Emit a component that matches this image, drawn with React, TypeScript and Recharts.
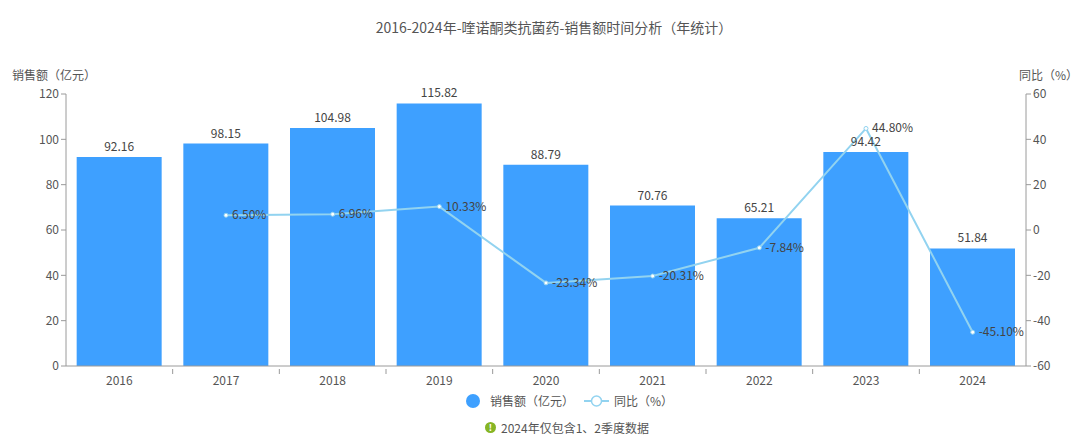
import React from "react";
import {
  ComposedChart, Bar, Line, XAxis, YAxis, LabelList,
} from "recharts";

const years = ["2016", "2017", "2018", "2019", "2020", "2021", "2022", "2023", "2024"];
const sales = [92.16, 98.15, 104.98, 115.82, 88.79, 70.76, 65.21, 94.42, 51.84];
const yoy: (number | null)[] = [null, 6.5, 6.96, 10.33, -23.34, -20.31, -7.84, 44.8, -45.1];
const leftTicks = [0, 20, 40, 60, 80, 100, 120];
const rightTicks = [-60, -40, -20, 0, 20, 40, 60];

const data = years.map((y, i) => ({ year: y, sales: sales[i], yoy: yoy[i] }));

const FONT = "'Noto Sans CJK SC', 'Noto Sans', sans-serif";
const BAR = "#3ea0ff";
const LINE = "#92d3f0";
const AXIS = "#9a9a9a";
const TEXT = "#555";

const W = 1080;
const H = 447;
const LEFT_W = 66;
const RIGHT_W = 54;
const HALF_BAND = (W - LEFT_W - RIGHT_W) / years.length / 2;

// echarts-style x ticks: marks on category boundaries, label in the middle
// eslint-disable-next-line @typescript-eslint/no-explicit-any
const XTick = ({ x, y, payload, index }: any) => (
  <g>
    {index < years.length - 1 && (
      <line x1={x + HALF_BAND} x2={x + HALF_BAND} y1={y - 5} y2={y} stroke={AXIS} />
    )}
    <text x={x} y={y + 11} textAnchor="middle" fontSize={12} fill={TEXT} fontFamily={FONT}>
      {payload.value}
    </text>
  </g>
);

// eslint-disable-next-line @typescript-eslint/no-explicit-any
const YoyLabel = ({ x, y, value }: any) => {
  if (value == null) return null;
  return (
    <text x={x + 6} y={y + 4} fontSize={12} fill="#444" fontFamily={FONT}>
      {value.toFixed(2)}%
    </text>
  );
};

export default function App() {
  return (
    <div style={{ position: "relative", width: W, height: H, fontFamily: FONT, background: "#fff" }}>
      <style>{`body{margin:0}`}</style>
      <div style={{ position: "absolute", top: 17, left: 14, width: W, textAlign: "center", fontSize: 14, color: "#555" }}>
        2016-2024年-喹诺酮类抗菌药-销售额时间分析（年统计）
      </div>
      <div style={{ position: "absolute", top: 66, left: 12, fontSize: 12, color: TEXT }}>销售额（亿元）</div>
      <div style={{ position: "absolute", top: 66, left: 1019, fontSize: 12, color: TEXT }}>同比（%）</div>

      <ComposedChart
        width={W}
        height={H}
        data={data}
        margin={{ top: 94, right: 0, bottom: 56, left: 0 }}
        barCategoryGap="10%"
      >
        <XAxis
          dataKey="year"
          height={25}
          tick={<XTick />}
          tickLine={false}
          axisLine={{ stroke: AXIS }}
          interval={0}
        />
        <YAxis
          yAxisId="l"
          width={LEFT_W}
          domain={[0, 120]}
          ticks={leftTicks}
          tickSize={5}
          tickLine={{ stroke: AXIS }}
          axisLine={{ stroke: AXIS }}
          tick={{ fontSize: 12, fill: TEXT, fontFamily: FONT }}
        />
        <YAxis
          yAxisId="r"
          orientation="right"
          width={RIGHT_W}
          domain={[-60, 60]}
          ticks={rightTicks}
          tickSize={5}
          tickLine={{ stroke: AXIS }}
          axisLine={{ stroke: AXIS }}
          tick={{ fontSize: 12, fill: TEXT, fontFamily: FONT, textAnchor: "start" }}
        />
        <Bar yAxisId="l" dataKey="sales" fill={BAR} isAnimationActive={false}>
          <LabelList dataKey="sales" position="top" offset={6} fontSize={12} fill="#444" fontFamily={FONT} />
        </Bar>
        <Line
          yAxisId="r"
          dataKey="yoy"
          stroke={LINE}
          strokeWidth={2}
          dot={{ r: 2, fill: "#fff", stroke: LINE, strokeWidth: 1 }}
          activeDot={false}
          connectNulls
          isAnimationActive={false}
        >
          <LabelList dataKey="yoy" content={<YoyLabel />} />
        </Line>
      </ComposedChart>

      {/* Legend */}
      <div style={{ position: "absolute", top: 392, left: 466, display: "flex", alignItems: "center", fontSize: 12, color: TEXT }}>
        <div style={{ display: "flex", alignItems: "center", marginRight: 10 }}>
          <div style={{ width: 14, height: 14, borderRadius: "50%", background: BAR, marginRight: 10 }} />
          <span>销售额（亿元）</span>
        </div>
        <div style={{ display: "flex", alignItems: "center" }}>
          <svg width={25} height={14} style={{ marginRight: 5 }}>
            <line x1={0} x2={25} y1={7} y2={7} stroke={LINE} strokeWidth={2} />
            <circle cx={12.5} cy={7} r={5} fill="#fff" stroke={LINE} strokeWidth={1.5} />
          </svg>
          <span>同比（%）</span>
        </div>
      </div>

      {/* Footnote */}
      <div style={{ position: "absolute", top: 419, left: 485, display: "flex", alignItems: "center", fontSize: 12, color: TEXT }}>
        <div style={{ width: 11, height: 11, borderRadius: "50%", background: "#86b524", color: "#fff", fontSize: 9, fontWeight: 700, lineHeight: "11px", textAlign: "center", marginRight: 5 }}>!</div>
        <span>2024年仅包含1、2季度数据</span>
      </div>
    </div>
  );
}
